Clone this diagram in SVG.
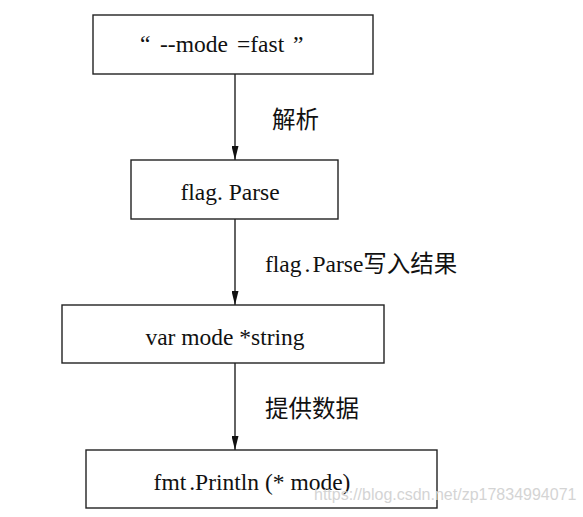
<svg xmlns="http://www.w3.org/2000/svg" width="583" height="517" viewBox="0 0 583 517">
<style>
.box{fill:#fff;stroke:#222;stroke-width:1.4}
.t{font-family:"Liberation Serif","Noto Sans CJK SC",serif;font-size:23.5px;fill:#111}
.lbl{font-family:"Liberation Serif","Noto Sans CJK SC",serif;font-size:23.5px;fill:#111}
.c{stroke:#222;stroke-width:1.4;fill:none;marker-end:url(#ah)}
.wm{font-family:"Liberation Sans",Arial,sans-serif;font-size:16px;fill:#d4d4d4}
</style>
<defs>
<marker id="ah" viewBox="0 0 14 7" refX="14" refY="3.5" markerWidth="14" markerHeight="7" markerUnits="userSpaceOnUse" orient="auto">
<path d="M0,0 L14,3.5 L0,7 Z" fill="#111"/>
</marker>
</defs>
<rect width="583" height="517" fill="#fff"/>
<g id="connectors">
<line class="c" x1="235" y1="74" x2="235" y2="160"/>
<line class="c" x1="235" y1="219" x2="235" y2="305"/>
<line class="c" x1="235" y1="363" x2="235" y2="450"/>
<text class="lbl" x="272" y="128">解析</text>
<text class="lbl" x="265" y="272">flag<tspan dx="3">.</tspan><tspan dx="2">Parse写入结果</tspan></text>
<text class="lbl" x="265" y="417">提供数据</text>
</g>
<g id="node1">
<rect class="box" x="93" y="15" width="280" height="59"/>
<text class="t" y="52"><tspan x="140">“</tspan><tspan x="160">--mode</tspan><tspan x="237">=fast</tspan><tspan x="293">”</tspan></text>
</g>
<g id="node2">
<rect class="box" x="131" y="160" width="207" height="59"/>
<text class="t" x="230" y="200" text-anchor="middle">flag. Parse</text>
</g>
<g id="node3">
<rect class="box" x="62" y="305" width="322" height="58"/>
<text class="t" x="225" y="345" text-anchor="middle">var mode *string</text>
</g>
<g id="node4">
<rect class="box" x="86" y="450" width="351" height="58"/>
<text class="t" x="252" y="490" text-anchor="middle">fmt<tspan dx="3">.</tspan>Println (* mode)</text>
</g>
<text class="wm" x="314" y="500">https://blog.csdn.net/zp17834994071</text>
</svg>
